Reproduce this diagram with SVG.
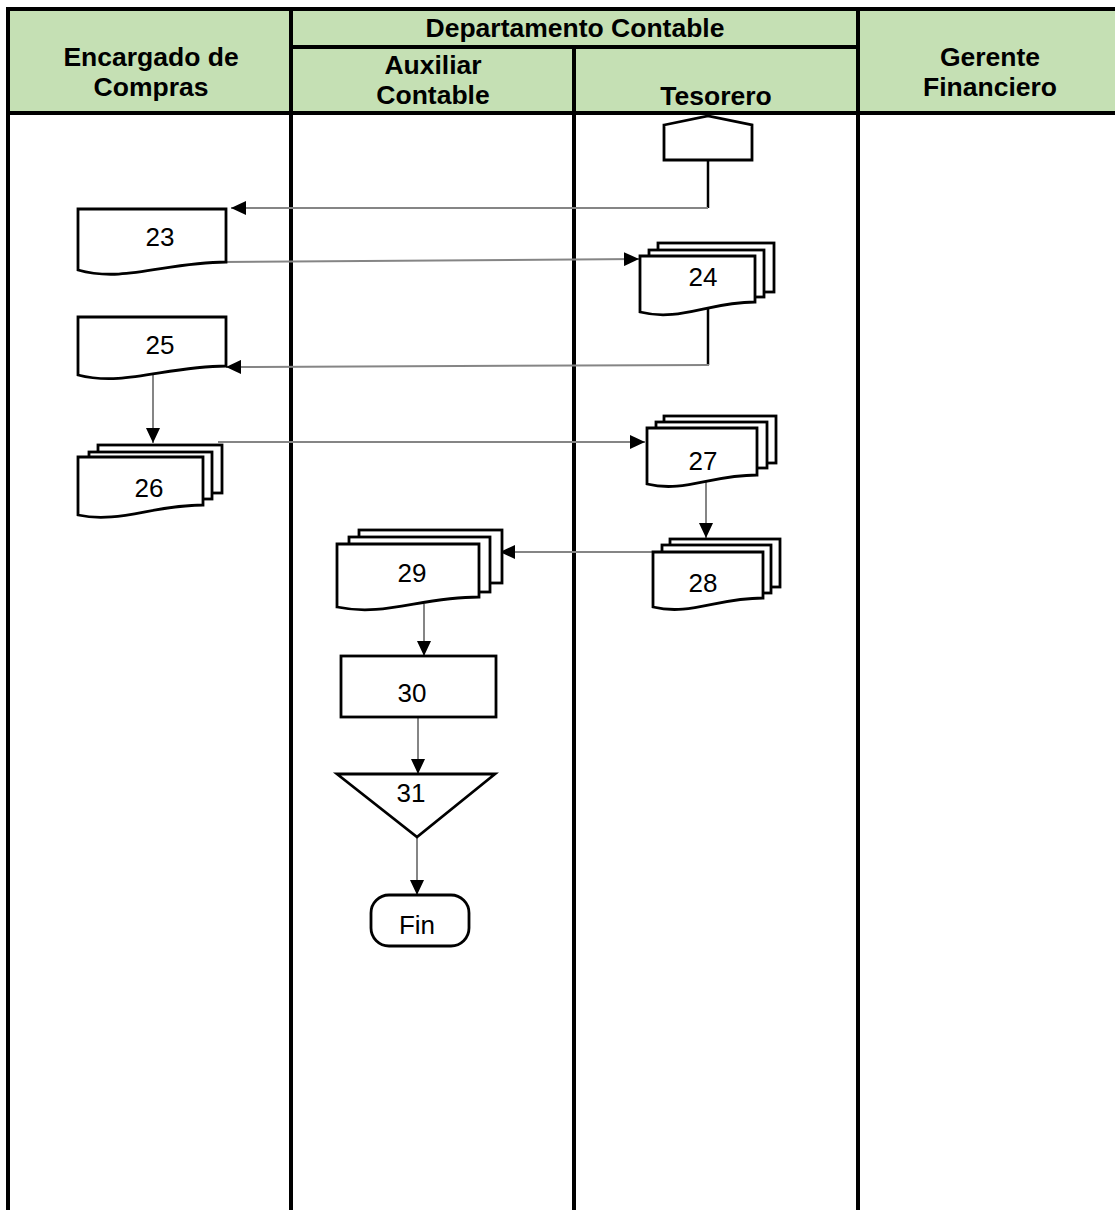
<svg xmlns="http://www.w3.org/2000/svg" width="1115" height="1210" viewBox="0 0 1115 1210">
<style>
.hdr{font-family:"Liberation Sans",Arial,sans-serif;font-weight:bold;font-size:26.5px;fill:#000;text-anchor:middle}
.lbl{font-family:"Liberation Sans",Arial,sans-serif;font-size:26px;fill:#000;text-anchor:middle}
.grid{stroke:#000;stroke-width:4;fill:none}
.shp{fill:#fff;stroke:#000;stroke-width:2.8;stroke-linejoin:miter}
.con{fill:none;stroke:#858585;stroke-width:2}
.conb{fill:none;stroke:#000;stroke-width:2.5}
</style>
<defs>
<marker id="arr" markerUnits="userSpaceOnUse" markerWidth="16" markerHeight="14" refX="15" refY="7" orient="auto">
<path d="M0,0 L15,7 L0,14 z" fill="#000"/>
</marker>
</defs>
<rect x="0" y="0" width="1115" height="1210" fill="#fff"/>
<g id="header">
<rect x="8" y="9" width="1107" height="104" fill="#C5E0B4"/>
<path class="grid" d="M6,9 H1115 M8,7 V1210 M6,113 H1115 M291,9 V1210 M574,47 V1210 M858,9 V1210 M291,47 H858"/>
<text class="hdr" x="151" y="66">Encargado de</text>
<text class="hdr" x="151" y="96">Compras</text>
<text class="hdr" x="575" y="37">Departamento Contable</text>
<text class="hdr" x="433" y="74">Auxiliar</text>
<text class="hdr" x="433" y="104">Contable</text>
<text class="hdr" x="716" y="105">Tesorero</text>
<text class="hdr" x="990" y="66">Gerente</text>
<text class="hdr" x="990" y="96">Financiero</text>
</g>
<g id="connectors">
<path class="conb" d="M708,161 V208"/>
<path class="con" d="M708,208 H231" marker-end="url(#arr)"/>
<path class="con" d="M222,262 L639,259" marker-end="url(#arr)"/>
<path class="conb" d="M708,309 V365"/>
<path class="con" d="M709,365 L226,367" marker-end="url(#arr)"/>
<path class="con" d="M153,375 V443" marker-end="url(#arr)"/>
<path class="con" d="M218,442 H645" marker-end="url(#arr)"/>
<path class="con" d="M706,482 V538" marker-end="url(#arr)"/>
<path class="con" d="M653,552 H500" marker-end="url(#arr)"/>
<path class="con" d="M424,604 V656" marker-end="url(#arr)"/>
<path class="con" d="M418,717 V774" marker-end="url(#arr)"/>
<path class="con" d="M417,837 V895" marker-end="url(#arr)"/>
</g>
<g id="offpage">
<path class="shp" d="M664,125 L708,116 L752,125 V160 H664 Z"/>
</g>
<g id="n23">
<path class="shp" d="M78,209 H226 V262 C167,262 124,283 78,270 Z"/>
<text class="lbl" x="160" y="246">23</text>
</g>
<g id="n24">
<rect class="shp" x="658" y="243" width="116" height="49"/>
<rect class="shp" x="649" y="250" width="115" height="47"/>
<path class="shp" d="M640,256 H755 V302 C708,302 680,322 640,312 Z"/>
<text class="lbl" x="703" y="286">24</text>
</g>
<g id="n25">
<path class="shp" d="M78,317 H226 V366 C167,366 124,387 78,375 Z"/>
<text class="lbl" x="160" y="354">25</text>
</g>
<g id="n26">
<rect class="shp" x="98" y="445" width="124" height="48"/>
<rect class="shp" x="89" y="452" width="123" height="47"/>
<path class="shp" d="M78,457 H203 V505 C153,505 118,524 78,515 Z"/>
<text class="lbl" x="149" y="497">26</text>
</g>
<g id="n27">
<rect class="shp" x="664" y="416" width="112" height="47"/>
<rect class="shp" x="656" y="422" width="111" height="46"/>
<path class="shp" d="M647,428 H757 V475 C711,475 684,493 647,484 Z"/>
<text class="lbl" x="703" y="470">27</text>
</g>
<g id="n28">
<rect class="shp" x="670" y="539" width="110" height="48"/>
<rect class="shp" x="662" y="545" width="109" height="48"/>
<path class="shp" d="M653,552 H763 V598 C717,598 690,616 653,607 Z"/>
<text class="lbl" x="703" y="592">28</text>
</g>
<g id="n29">
<rect class="shp" x="359" y="530" width="143" height="53"/>
<rect class="shp" x="349" y="537" width="141" height="55"/>
<path class="shp" d="M337,544 H479 V597 C420,597 385,617 337,607 Z"/>
<text class="lbl" x="412" y="582">29</text>
</g>
<g id="n30">
<rect class="shp" x="341" y="656" width="155" height="61"/>
<text class="lbl" x="412" y="702">30</text>
</g>
<g id="n31">
<path class="shp" d="M337,774 H495 L417,837 Z"/>
<text class="lbl" x="411" y="802">31</text>
</g>
<g id="fin">
<rect class="shp" x="371" y="895" width="98" height="51" rx="18" ry="18"/>
<text class="lbl" x="417" y="934">Fin</text>
</g>
</svg>
